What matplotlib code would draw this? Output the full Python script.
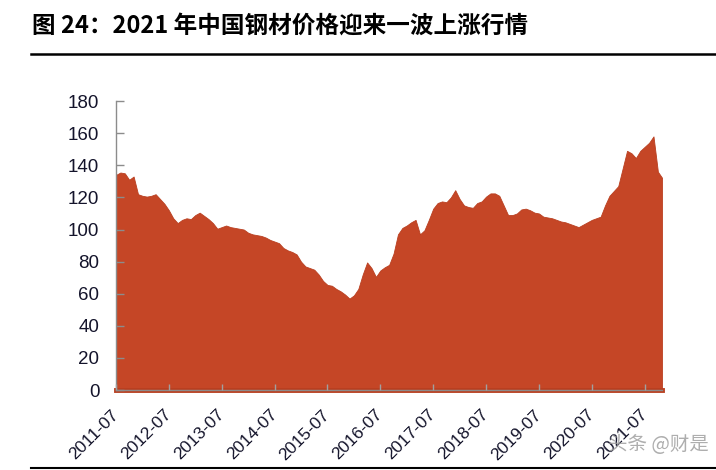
import numpy as np
import matplotlib as mpl
mpl.use('Agg')
import matplotlib.pyplot as plt

# monthly steel price index, 2011-07 .. 2021-11
price = [134, 135.5, 135, 131, 133, 122, 121, 120.5, 121, 122,
         119, 116, 112, 107, 104, 106, 107, 106.5, 109, 110.5,
         108.5, 106.5, 104, 100.5, 101.5, 102.5, 101.5, 101, 100.5, 100,
         98, 97, 96.5, 96, 95, 93.5, 92.5, 91.5, 88.5, 87,
         86, 84.5, 80, 77, 76, 75, 72, 68, 65.5, 65,
         63, 61.5, 59.5, 57, 59, 63, 72, 79.5, 76, 70.5,
         74.5, 76.5, 78, 85, 97, 101, 102.5, 104.5, 106, 97,
         99.5, 106, 113, 116.5, 117.5, 117, 120, 124.5, 119, 115,
         114, 113.5, 116.5, 117.5, 120.5, 122.5, 122.5, 121, 115, 109,
         109, 110, 112.5, 113, 112, 110.5, 110, 108, 107.5, 107,
         106, 105, 104.5, 103.5, 102.5, 101.5, 103, 104.5, 106, 107,
         108, 115, 121, 124, 127, 138, 149, 147.5, 144.5, 149,
         151.5, 154, 158, 136, 132]
tick_labels = ['2011-07', '2012-07', '2013-07', '2014-07', '2015-07', '2016-07',
               '2017-07', '2018-07', '2019-07', '2020-07', '2021-07']
y_ticks = [0, 20, 40, 60, 80, 100, 120, 140, 160, 180]

title = '图 24：2021 年中国钢材价格迎来一波上涨行情'

plt.rcParams['font.family'] = ['Liberation Sans', 'DejaVu Sans']

fig = plt.figure(figsize=(7.16, 4.70), dpi=100)
ax = fig.add_axes([0.162, 0.170, 0.763, 0.615])

x = np.arange(len(price))
ax.fill_between(x, price, 0, color='#C54626', linewidth=0.6, edgecolor='#B93F20')
ax.axhline(0, color='#B93F20', linewidth=3.5, zorder=1, clip_on=False)

ax.set_xlim(0, len(price) - 1)
ax.set_ylim(0, 180)
ax.set_yticks(y_ticks)
ax.set_yticklabels([str(v) for v in y_ticks])
ax.set_xticks(np.arange(len(tick_labels)) * 12)
ax.set_xticklabels(tick_labels, rotation=45, ha='right', va='center',
                   rotation_mode='anchor')

for s in ['top', 'right']:
  ax.spines[s].set_visible(False)
for s in ['left', 'bottom']:
  ax.spines[s].set_color('#8C8C8C')
  ax.spines[s].set_linewidth(1.0)

ax.tick_params(axis='y', direction='in', length=6, width=1, color='#8C8C8C',
               labelsize=13.5, labelcolor='#14142B', pad=12)
ax.tick_params(axis='x', direction='in', length=4, width=1, color='#A0A0A0',
               labelsize=12.5, labelcolor='#14142B', pad=16)
for t in ax.get_xticklabels() + ax.get_yticklabels():
  t.set_zorder(5)
ax.set_axisbelow(False)

fig.text(0.045, 0.945, title, fontsize=17, fontweight='bold',
         family=['Noto Sans CJK SC', 'DejaVu Sans'], va='center', ha='left')
fig.add_artist(plt.Line2D([0.043, 1.0], [0.885, 0.885], color='black', linewidth=1.8,
                          transform=fig.transFigure))
fig.add_artist(plt.Line2D([0.043, 1.0], [0.005, 0.005], color='black', linewidth=1.5,
                          transform=fig.transFigure))

fig.text(0.99, 0.055, '头条 @财是', fontsize=14, color='#9A9A9A', alpha=0.8,
         family=['Noto Sans CJK SC', 'DejaVu Sans'], ha='right', va='center')

fig.savefig('out.png', dpi=100)
